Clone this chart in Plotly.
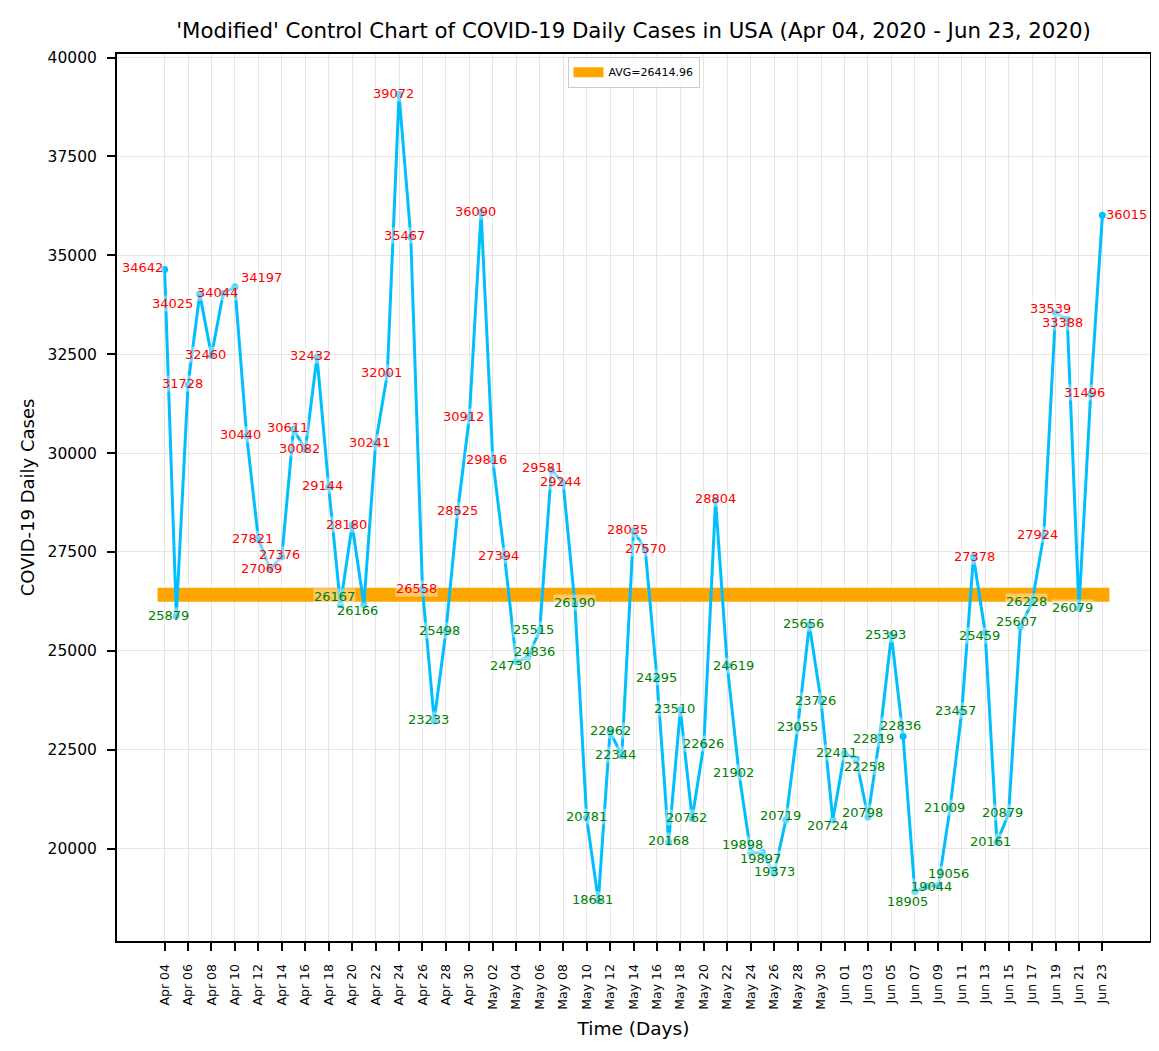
import pandas as pd
import plotly.graph_objects as go

# ---------------- data ----------------
start_date = "2020-04-04"
end_date = "2020-06-23"
daily_cases_apr = [34642, 25879, 31728, 34025, 32460, 34044, 34197, 30440, 27821, 27069,
                   27376, 30611, 30082, 32432, 29144, 26167, 28180, 26166, 30241, 32001,
                   39072, 35467, 26558, 23233, 25498, 28525, 30912]
daily_cases_may = [36090, 29816, 27394, 24730, 24836, 25515, 29581, 29244, 26190, 20781,
                   18681, 22962, 22344, 28035, 27570, 24295, 20168, 23510, 20762, 22626,
                   28804, 24619, 21902, 19898, 19897, 19373, 20719, 23055, 25656, 23726,
                   20724]
daily_cases_jun = [22411, 22258, 20798, 22819, 25393, 22836, 18905, 19044, 19056, 21009,
                   23457, 27378, 25459, 20161, 20879, 25607, 26228, 27924, 33539, 33388,
                   26079, 31496, 36015]
avg_cases = 26414.96

cases = daily_cases_apr + daily_cases_may + daily_cases_jun
dates = pd.date_range(start_date, end_date, freq="D")
tick_dates = dates[::2]
tick_text = [d.strftime("%b %d") for d in tick_dates]

# ---------------- label offsets (pixels, dx right, dy down) ----------------
default_shift = (-6, -1)
label_shift = {
    0: (-22, -2), 1: (-8, -1), 3: (-27, 10), 6: (27, -10), 9: (-9, 0), 10: (-2.5, -2),
    15: (-6, -8), 17: (-6, 5.5), 25: (0, -1), 30: (-6, 4), 31: (6, -6), 33: (-9, -2),
    34: (-3, -1), 35: (0, -1.5), 36: (0, -1), 38: (0, -1), 41: (0, -1), 42: (0, -1),
    43: (0, -1.5), 46: (0, -1), 47: (0, -1.5), 48: (6.5, -0.5), 50: (-8.6, -8),
    51: (-1.6, 6), 52: (0, -1.5), 53: (-5, -4.6), 54: (0, -1), 57: (-5, 6), 58: (-8, -1),
    59: (8.5, 7), 60: (-5, -4.7), 61: (-6, 1.5), 63: (-3, -11), 64: (-7.7, 9.4),
    65: (5, 0.5), 66: (10.7, -12), 69: (1, -0.5), 70: (-5.7, 3), 73: (-4.3, -5),
    76: (-5, -5), 77: (-5, 3), 80: (24, -1),
}

FONT = "DejaVu Sans"
LINE_COLOR = "#00BFFF"
AVG_COLOR = "#FFA500"

fig = go.Figure()

# average band (line with projecting caps)
cap = pd.Timedelta(days=0.6)
fig.add_trace(go.Scatter(
    x=[dates[0] - cap, dates[-1] + cap], y=[avg_cases, avg_cases],
    mode="lines", line=dict(color=AVG_COLOR, width=14),
    name=f"AVG={avg_cases:.2f}", showlegend=True, hoverinfo="skip",
))

# daily cases line
fig.add_trace(go.Scatter(
    x=dates, y=cases, mode="lines+markers",
    line=dict(color=LINE_COLOR, width=3),
    marker=dict(color=LINE_COLOR, size=7),
    showlegend=False, name="Daily cases",
))

# value labels
annotations = []
for i, (d, v) in enumerate(zip(dates, cases)):
    dx, dy = label_shift.get(i, default_shift)
    annotations.append(dict(
        x=d, y=v, xref="x", yref="y", text=str(v), showarrow=False,
        xshift=dx, yshift=-dy,
        font=dict(family=FONT, size=13, color="red" if v > avg_cases else "green"),
        bgcolor="rgba(255,255,255,0.4)", borderpad=0,
    ))

pad = pd.Timedelta(days=4.06)
ymin, ymax = min(cases), max(cases)
ypad = (ymax - ymin) * 0.05

# page body has an 8px margin: figure is sized/offset to compensate
W, H = 1143, 1035
ML, MR, MT, MB = 109, 1, 46, 102

fig.update_layout(
    width=W, height=H,
    margin=dict(l=ML, r=MR, t=MT, b=MB, pad=0),
    paper_bgcolor="white", plot_bgcolor="white",
    font=dict(family=FONT, color="black"),
    title=dict(
        text="'Modified' Control Chart of COVID-19 Daily Cases in USA (Apr 04, 2020 - Jun 23, 2020)",
        x=0.5, xref="paper", xanchor="center",
        y=1 - 23 / H, yref="container", yanchor="middle",
        font=dict(family=FONT, size=21.3, color="black"),
    ),
    xaxis=dict(
        type="date",
        range=[dates[0] - pad, dates[-1] + pad],
        tickmode="array", tickvals=list(tick_dates), ticktext=tick_text,
        tickangle=-90, tickfont=dict(family=FONT, size=12.5, color="black"),
        ticks="outside", ticklen=8, tickwidth=1.5, tickcolor="black",
        ticklabelstandoff=8,
        showgrid=True, gridcolor="#e6e6e6", gridwidth=1,
        showline=True, linecolor="black", linewidth=2, mirror=True,
        zeroline=False,
        title=dict(text="Time (Days)", font=dict(family=FONT, size=18.5, color="black"), standoff=13),
        automargin=False,
    ),
    yaxis=dict(
        range=[ymin - ypad, ymax + ypad],
        dtick=2500, tick0=0, tickformat="d",
        tickfont=dict(family=FONT, size=15.5, color="black"),
        ticks="outside", ticklen=8, tickwidth=1.5, tickcolor="black",
        ticklabelstandoff=7,
        showgrid=True, gridcolor="#e6e6e6", gridwidth=1,
        showline=True, linecolor="black", linewidth=2, mirror=True,
        zeroline=False,
        title=dict(text="COVID-19 Daily Cases", font=dict(family=FONT, size=18, color="black"), standoff=8),
        automargin=False,
    ),
    legend=dict(
        x=0.5, xanchor="center", y=0.997, yanchor="top",
        bgcolor="rgba(255,255,255,0.8)", bordercolor="#cccccc", borderwidth=1,
        font=dict(family=FONT, size=11, color="black"),
        itemwidth=30, tracegroupgap=0,
    ),
    annotations=annotations,
)

fig.write_html("out.html")
